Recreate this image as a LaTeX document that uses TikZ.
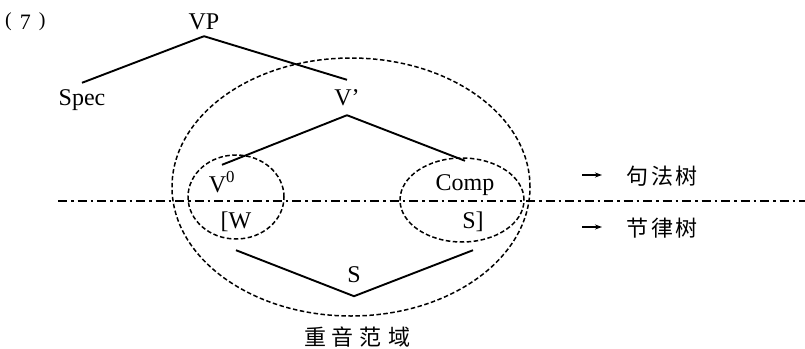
\documentclass[tikz,border=0pt]{standalone}
\usepackage{fontspec}
\setmainfont{Liberation Serif}
\newfontfamily\cjk{Noto Sans CJK SC}
\usetikzlibrary{arrows.meta}
\newcommand\zsp[1]{\hspace{#1}}
\begin{document}
\begin{tikzpicture}[x=1pt,y=-1pt,
  lab/.style={font=\fontsize{24}{24}\selectfont, anchor=base, text height=15pt, text depth=0pt, inner xsep=1pt},
  zh/.style={font=\fontsize{22}{22}\selectfont\cjk, anchor=base, inner sep=0pt},
  branch/.style={line width=1.9pt},
  region/.style={line width=1.5pt, dash pattern=on 4.5pt off 2.5pt},
  axisline/.style={line width=1.4pt, dash pattern=on 9pt off 4pt on 2.5pt off 4pt},
  arr/.style={line width=1.4pt, -{Stealth[length=7pt,width=5pt]}}
]
\useasboundingbox (0,0) rectangle (805,348);

% label
\node[anchor=base west, inner sep=0pt] (num) at (5,29)
  {\fontsize{20}{20}\selectfont\raisebox{3pt}{(}\hspace{8pt}\fontsize{22}{22}\selectfont 7\hspace{8pt}\fontsize{20}{20}\selectfont\raisebox{3pt}{)}};

% syntactic tree
\node[lab, inner ysep=7pt] (VP) at (204,29) {VP};
\node[lab, inner ysep=7pt] (Spec) at (82,105) {Spec};
\node[lab, inner ysep=10pt] (Vbar) at (347,105) {V’};
\node[lab, inner ysep=12pt] (V0) at (222,192) {V\textsuperscript{0}};
\node[lab, inner ysep=14pt] (Comp) at (465,190) {Comp};

\draw[branch] (VP.south) -- (Spec.north);
\draw[branch] (VP.south) -- (Vbar.north);
\draw[branch] (Vbar.south) -- (V0.north);
\draw[branch] (Vbar.south) -- (Comp.north);

% prosodic tree
\node[lab, inner ysep=22pt] (W) at (236,228) {[W};
\node[lab, inner ysep=22pt] (Sr) at (473,228) {S]};
\node[lab, inner ysep=14pt] (S) at (354,282) {S};
\draw[branch] (W.south) -- (S.south) -- (Sr.south);

% dividing line
\coordinate (lineL) at (58,201);
\coordinate (lineR) at (805,201);
\draw[axisline] (lineL) -- (lineR);

% ellipses
\draw[region] (351,187) ellipse [x radius=179pt, y radius=129pt];
\draw[region] (236,197) ellipse [x radius=48pt, y radius=42pt];
\draw[region] (462,200) ellipse [x radius=62pt, y radius=42pt];

% legends
\coordinate (a1s) at (582,175);
\coordinate (a1e) at (602,175);
\coordinate (a2s) at (582,227);
\coordinate (a2e) at (602,227);
\draw[arr] (a1s) -- (a1e);
\draw[arr] (a2s) -- (a2e);
\node[zh] (syn) at (662,184) {句\zsp{3pt}法\zsp{3pt}树};
\node[zh] (pro) at (662,236) {节\zsp{3pt}律\zsp{3pt}树};
\node[zh] (dom) at (357,345) {重\zsp{6pt}音\zsp{6pt}范\zsp{6pt}域};
\end{tikzpicture}
\end{document}
